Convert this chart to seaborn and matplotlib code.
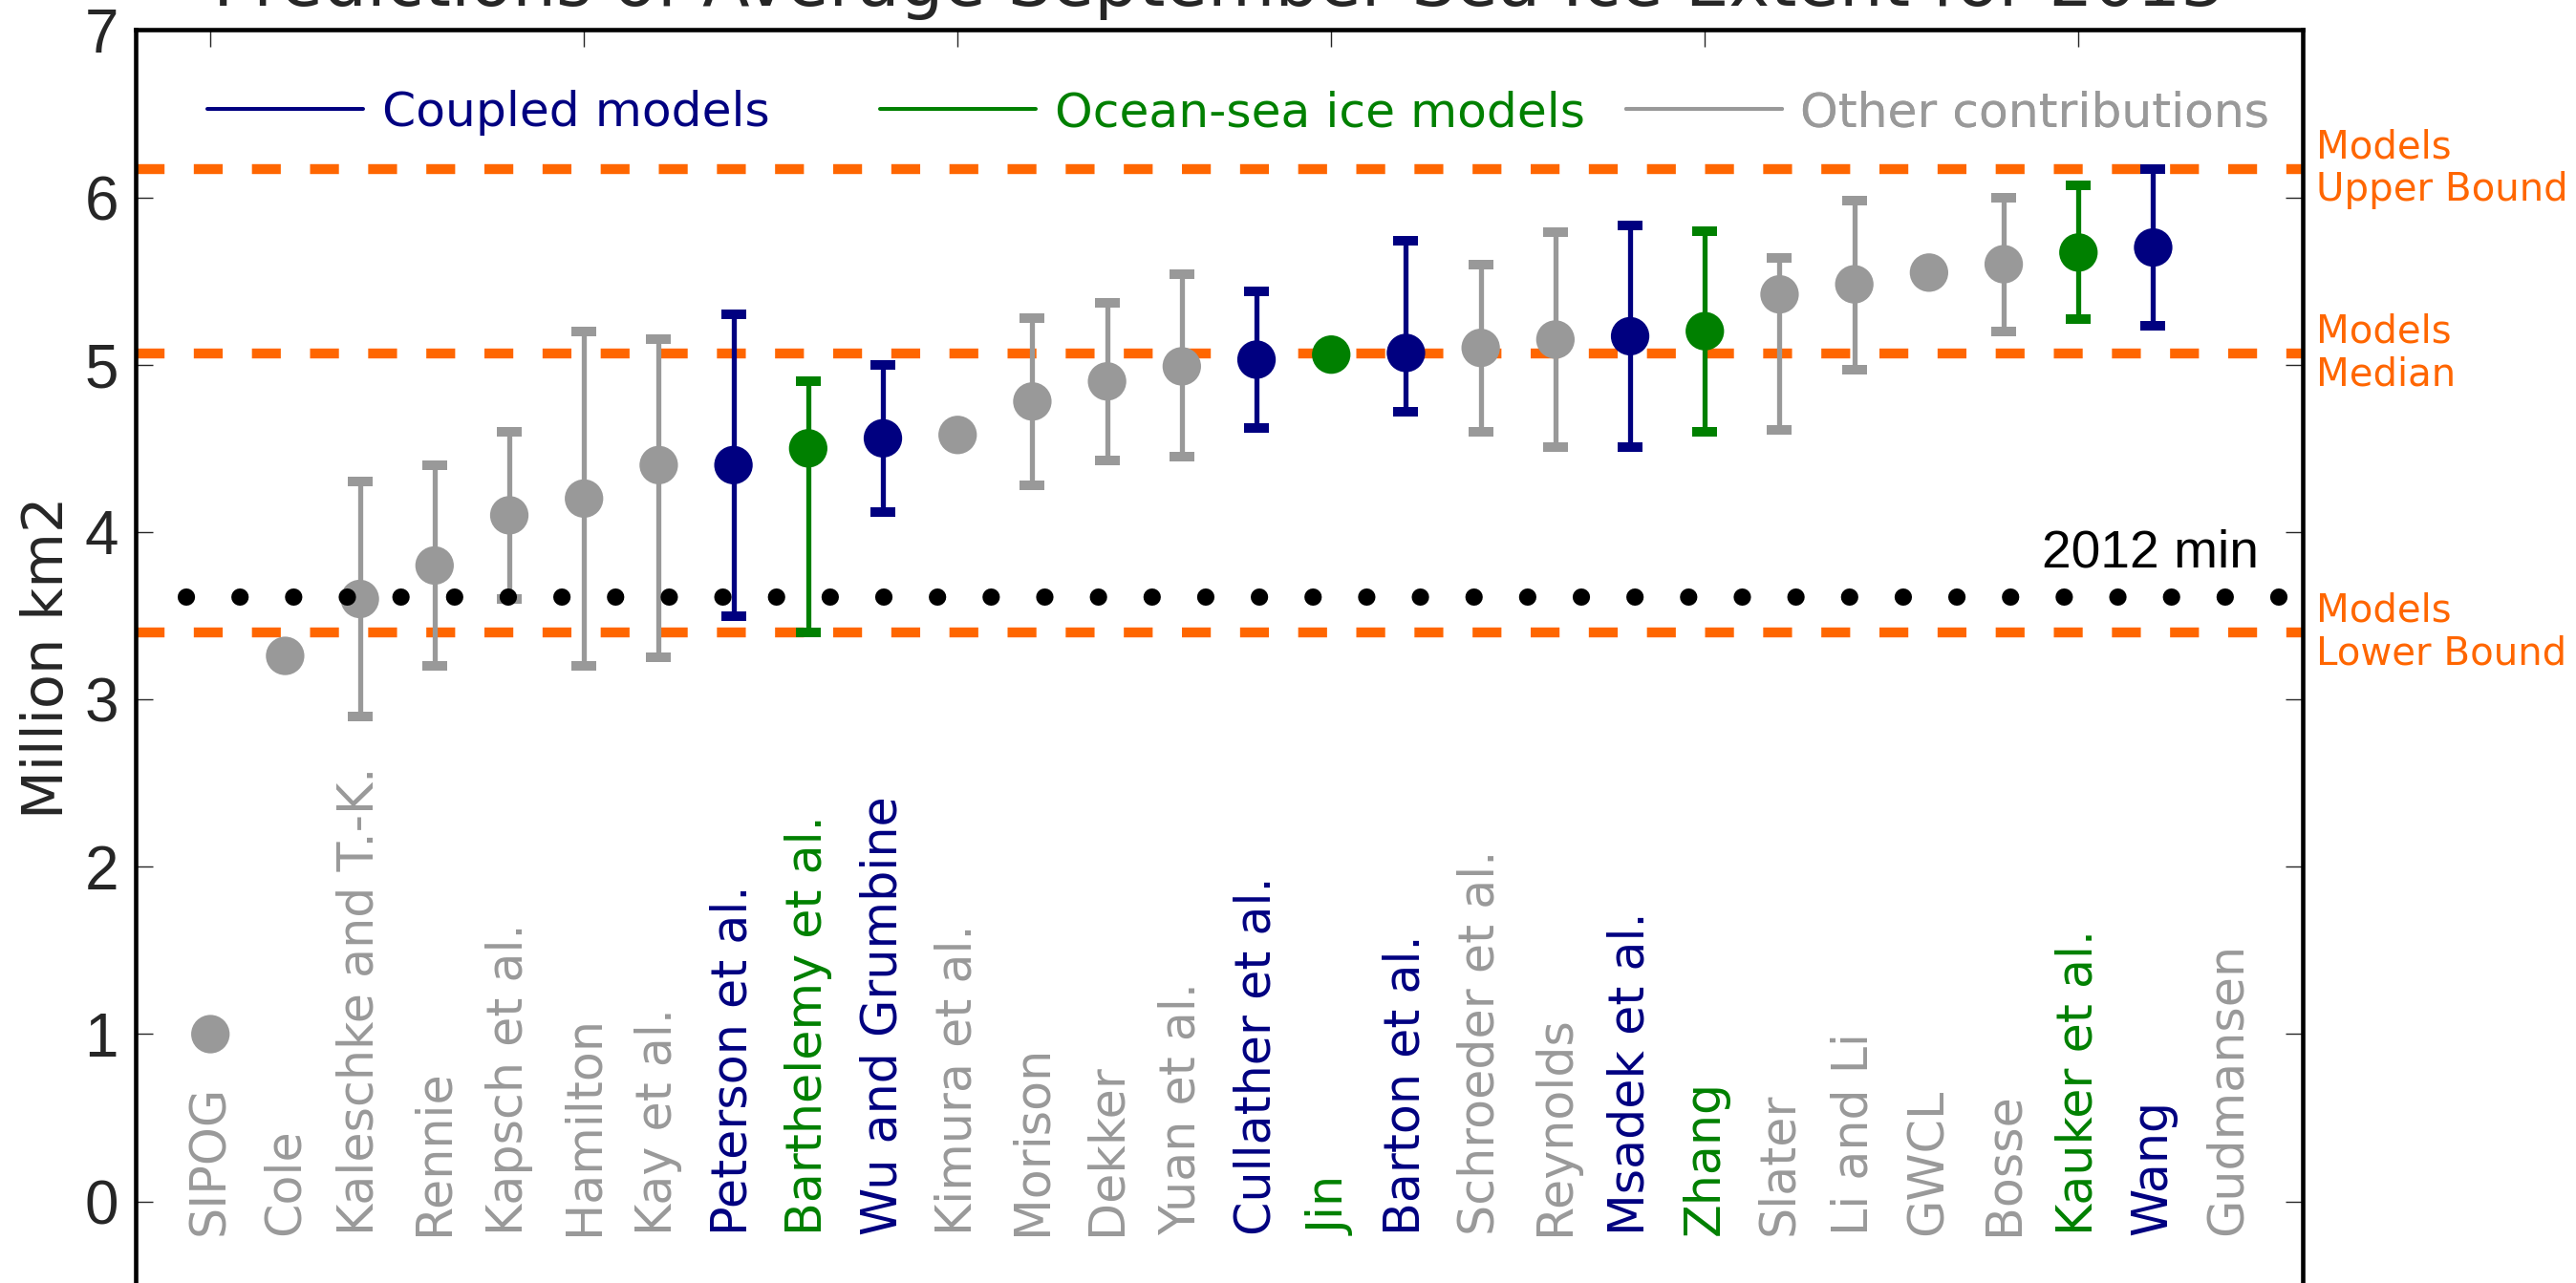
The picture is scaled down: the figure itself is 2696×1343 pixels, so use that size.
import numpy as np
import pandas as pd
import matplotlib
matplotlib.use("Agg")
import matplotlib.pyplot as plt
import seaborn as sns
from matplotlib.lines import Line2D

# ---- data -------------------------------------------------------------
contributors = [
    "SIPOG", "Cole", "Kaleschke and T.-K.", "Rennie", "Kapsch et al.",
    "Hamilton", "Kay et al.", "Peterson et al.", "Barthelemy et al.",
    "Wu and Grumbine", "Kimura et al.", "Morison", "Dekker", "Yuan et al.",
    "Cullather et al.", "Jin", "Barton et al.", "Schroeder et al.",
    "Reynolds", "Msadek et al.", "Zhang", "Slater", "Li and Li", "GWCL",
    "Bosse", "Kauker et al.", "Wang", "Gudmansen",
]
groups = [
    "other", "other", "other", "other", "other", "other", "other",
    "coupled", "ocean", "coupled", "other", "other", "other", "other",
    "coupled", "ocean", "coupled", "other", "other", "coupled", "ocean",
    "other", "other", "other", "other", "ocean", "coupled", "other",
]
nan = np.nan
estimate = [
    1.00, 3.26, 3.60, 3.80, 4.10, 4.20, 4.40, 4.40, 4.50, 4.56, 4.58, 4.78,
    4.90, 4.99, 5.03, 5.06, 5.07, 5.10, 5.15, 5.17, 5.20, 5.42, 5.48, 5.55,
    5.60, 5.67, 5.70, nan,
]
range_low = [
    nan, nan, 2.90, 3.20, 3.60, 3.20, 3.25, 3.50, 3.40, 4.12, nan, 4.28,
    4.43, 4.45, 4.62, nan, 4.72, 4.60, 4.51, 4.51, 4.60, 4.61, 4.97, nan,
    5.20, 5.27, 5.23, nan,
]
range_high = [
    nan, nan, 4.30, 4.40, 4.60, 5.20, 5.15, 5.30, 4.90, 5.00, nan, 5.28,
    5.37, 5.54, 5.44, nan, 5.74, 5.60, 5.79, 5.83, 5.80, 5.64, 5.98, nan,
    6.00, 6.07, 6.17, nan,
]
min_2012 = 3.61

group_names = {
    "coupled": "Coupled models",
    "ocean": "Ocean-sea ice models",
    "other": "Other contributions",
}
colors = {"coupled": "#000080", "ocean": "#008000", "other": "#999999"}
ORANGE = "#ff6600"

df = pd.DataFrame({
    "name": contributors,
    "group": groups,
    "estimate": estimate,
    "low": range_low,
    "high": range_high,
})
df["pos"] = np.arange(len(df))

# model spread: bounds and median of the two model groups
models = df[df["group"].isin(["coupled", "ocean"])]
upper_bound = models["high"].max()
lower_bound = models["low"].min()
median = models["estimate"].median()

# ---- figure -----------------------------------------------------------
sns.set_style("ticks")
plt.rcParams["font.family"] = ["DejaVu Sans"]
fig = plt.figure(figsize=(26.96, 13.43), dpi=100)
ax = fig.add_axes([0.05267, -0.00171, 0.8412, 0.9784])
ax.set_xlim(-1, 28)
ax.set_ylim(-0.5, 7)

# model bounds / median
for val in (upper_bound, median, lower_bound):
    ax.axhline(val, color=ORANGE, lw=7.5, linestyle=(0, (2.9, 2.94)),
               dash_capstyle="butt", zorder=1)

# ranges
for g in ("coupled", "ocean", "other"):
    sub = df[(df["group"] == g) & df["low"].notna()]
    ax.errorbar(sub["pos"], sub["estimate"],
                yerr=[sub["estimate"] - sub["low"], sub["high"] - sub["estimate"]],
                fmt="none", ecolor=colors[g], elinewidth=3.8,
                capsize=9.4, capthick=7.2, zorder=3)

# point estimates
sns.scatterplot(data=df.dropna(subset=["estimate"]), x="pos", y="estimate",
                hue="group", palette=colors, s=29 ** 2, linewidth=0,
                legend=False, zorder=4, ax=ax)

# 2012 minimum
ax.axhline(min_2012, color="black", lw=13, linestyle=(0.177, (0.01, 3.1)),
           dash_capstyle="round", zorder=5)
ax.text(27.41, min_2012 + 0.18, "2012 min", ha="right", va="baseline",
        fontsize=39.7, family=["Liberation Sans", "DejaVu Sans"], color="black")

# contributor names inside the axes
for _, row in df.iterrows():
    ax.text(row["pos"], -0.2, row["name"], rotation=90, ha="center",
            va="bottom", fontsize=36.5, color=colors[row["group"]])

# right-hand annotations
trans = ax.get_yaxis_transform()
for val, txt in ((upper_bound, "Models\nUpper Bound"),
                 (median, "Models\nMedian"),
                 (lower_bound, "Models\nLower Bound")):
    ax.text(1.0064, val, txt, transform=trans, ha="left", va="center",
            fontsize=29, color=ORANGE, linespacing=1.15, clip_on=False)

# legends, one per group
legend_x = {"coupled": 0.0331, "ocean": 0.3435, "other": 0.6878}
legend_y = 1 - (118 - 31.3) / 1314.0
for g in ("coupled", "ocean", "other"):
    handle = Line2D([], [], color=colors[g], lw=2.9)
    leg = ax.legend([handle], [group_names[g]], loc="center left",
                    bbox_to_anchor=(legend_x[g], legend_y), frameon=False,
                    fontsize=36.3, handlelength=3.23, handletextpad=0.39,
                    borderpad=0, borderaxespad=0, labelcolor=colors[g])
    ax.add_artist(leg)

# axes styling
ax.set_xticks(np.arange(0, 28, 5))
ax.set_xticklabels([])
ax.set_yticks(np.arange(0, 8, 1))
ax.tick_params(axis="both", direction="in", length=13, width=1,
               top=True, right=True, bottom=False, left=True)
ax.tick_params(axis="y", labelsize=46, pad=13)
for lab in ax.get_yticklabels():
    lab.set_family(["Liberation Sans", "DejaVu Sans"])
for sp in ax.spines.values():
    sp.set_linewidth(3.3)
    sp.set_color("black")
ax.set_xlabel("")
ax.set_ylabel("Million km2", fontsize=42.5)
ax.yaxis.set_label_coords(-0.0282, 0.5)
ax.set_title("Predictions of Average September Sea Ice Extent for 2013",
             fontsize=52, pad=18)

fig.savefig("out.png", dpi=100)
